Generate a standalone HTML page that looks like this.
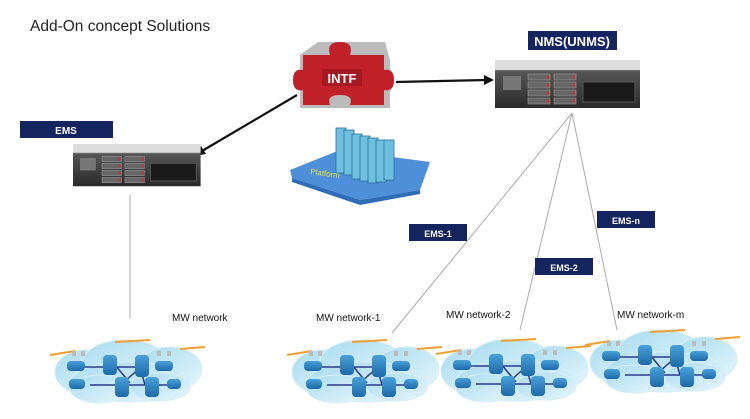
<!DOCTYPE html>
<html><head><meta charset="utf-8"><style>
body{margin:0;background:#fff}
svg{display:block}
text{font-family:"Liberation Sans",Arial,sans-serif}
</style></head><body>
<svg width="750" height="419" viewBox="0 0 750 419" xmlns="http://www.w3.org/2000/svg">
<defs>
<linearGradient id="cl" x1="0" y1="0" x2="1" y2="1"><stop offset="0" stop-color="#a9dcf0"/><stop offset="1" stop-color="#e6f6fc"/></linearGradient>
<linearGradient id="srv" x1="0" y1="0" x2="0" y2="1"><stop offset="0" stop-color="#e8e8e8"/><stop offset="0.25" stop-color="#555"/><stop offset="1" stop-color="#2a2a2a"/></linearGradient>
<linearGradient id="dev" x1="0" y1="0" x2="0" y2="1"><stop offset="0" stop-color="#4aa0d8"/><stop offset="1" stop-color="#1c6aa8"/></linearGradient>
<g id="cloud">
 <g fill="url(#cl)" stroke="#d8eef7" stroke-width="1">
  <ellipse cx="30" cy="35" rx="30" ry="22"/><ellipse cx="70" cy="25" rx="42" ry="22"/><ellipse cx="115" cy="32" rx="32" ry="22"/>
  <ellipse cx="75" cy="45" rx="60" ry="20"/><ellipse cx="45" cy="52" rx="30" ry="14"/><ellipse cx="105" cy="50" rx="30" ry="14"/>
 </g>
 <path d="M-5 18 L20 14 M60 5 L95 3 M125 12 L150 10" stroke="#f0a030" stroke-width="2"/>
 <g stroke="#2a3a8a" stroke-width="1.5" fill="none">
  <path d="M25 30 L90 30 M35 48 L120 48 M60 28 L75 46 M88 28 L68 46 M85 30 L90 48"/>
 </g>
 <g fill="url(#dev)">
  <rect x="12" y="24" width="18" height="10" rx="4"/><rect x="48" y="18" width="14" height="20" rx="4"/><rect x="80" y="18" width="14" height="22" rx="4"/><rect x="100" y="24" width="18" height="10" rx="4"/>
  <rect x="14" y="42" width="16" height="10" rx="4"/><rect x="60" y="40" width="14" height="20" rx="4"/><rect x="90" y="40" width="14" height="20" rx="4"/><rect x="112" y="42" width="14" height="10" rx="4"/>
 </g>
 <g fill="#bbb"><rect x="17" y="14" width="4" height="5"/><rect x="26" y="14" width="4" height="5"/><rect x="102" y="14" width="4" height="5"/><rect x="112" y="14" width="4" height="5"/></g>
</g>
<g id="server">
 <rect x="0" y="0" width="145" height="48" fill="url(#srv)"/>
 <rect x="0" y="0" width="145" height="10" fill="#ddd"/>
 <g fill="#666" stroke="#999" stroke-width="0.6">
  <rect x="33" y="14" width="22" height="6"/><rect x="33" y="22" width="22" height="6"/><rect x="33" y="30" width="22" height="6"/><rect x="33" y="38" width="22" height="6"/>
  <rect x="59" y="14" width="22" height="6"/><rect x="59" y="22" width="22" height="6"/><rect x="59" y="30" width="22" height="6"/><rect x="59" y="38" width="22" height="6"/>
 </g>
 <g fill="#c33"><rect x="52" y="15" width="2" height="4"/><rect x="52" y="23" width="2" height="4"/><rect x="52" y="31" width="2" height="4"/><rect x="52" y="39" width="2" height="4"/><rect x="78" y="15" width="2" height="4"/><rect x="78" y="23" width="2" height="4"/><rect x="78" y="31" width="2" height="4"/><rect x="78" y="39" width="2" height="4"/></g>
 <rect x="88" y="22" width="52" height="20" fill="#1a1a1a" stroke="#555"/>
 <rect x="8" y="16" width="18" height="14" fill="#777"/>
</g>
</defs>

<text x="30" y="31" font-size="15.5" fill="#222">Add-On concept Solutions</text>

<!-- lines -->
<g stroke="#aaa" stroke-width="1" fill="none">
 <line x1="130" y1="195" x2="130" y2="318"/>
 <line x1="572" y1="113" x2="392" y2="333"/>
 <line x1="572" y1="113" x2="520" y2="330"/>
 <line x1="572" y1="113" x2="617" y2="330"/>
</g>

<!-- puzzle -->
<g>
 <path d="M300 55 L318 42 L385 42 L390 60 L390 108 L300 108 Z" fill="#bbb"/>
 <path d="M303 55 L330 55 Q326 42 340 42 Q354 42 350 55 L384 55 L384 70 Q394 68 394 80 Q394 92 384 90 L384 105 L350 105 Q354 95 340 95 Q326 95 330 105 L303 105 L303 90 Q293 92 293 80 Q293 68 303 70 Z" fill="#c0202a"/>
 <rect x="322" y="69" width="40" height="17" fill="#a51a22"/>
 <text x="342" y="83" font-size="13" font-weight="bold" fill="#fff" text-anchor="middle">INTF</text>
</g>

<!-- arrows -->
<g stroke="#111" stroke-width="2.2" fill="#111">
 <line x1="396" y1="82" x2="486" y2="80"/>
 <line x1="297" y1="95" x2="202" y2="151"/>
</g>
<polygon points="494,80 484,75 484,85" fill="#111"/>
<polygon points="194,156 201,146 206,154" fill="#111"/>

<!-- platform -->
<polygon points="290,170 340,150 430,162 420,190 360,200 292,178" fill="#4d8fd8"/>
<polygon points="292,178 360,200 420,190 420,194 360,205 292,182" fill="#2f6db8"/>
<g fill="#6fc0e0" stroke="#2a6e98" stroke-width="0.8">
 <rect x="336" y="128" width="10" height="45"/><rect x="344" y="130" width="10" height="45"/><rect x="352" y="134" width="10" height="45"/><rect x="360" y="136" width="10" height="45"/><rect x="368" y="138" width="10" height="45"/><rect x="376" y="140" width="10" height="42"/><rect x="384" y="140" width="10" height="40"/>
</g>
<text x="310" y="174" font-size="8" fill="#e8e040" transform="rotate(8 310 174)">Platform</text>

<!-- servers -->
<use href="#server" x="495" y="60"/>
<use href="#server" x="73" y="144" transform="translate(73 144) scale(0.88) translate(-73 -144)"/>

<!-- labels -->
<g fill="#14245e">
 <rect x="528" y="31" width="89" height="19"/>
 <rect x="20" y="121" width="93" height="17"/>
 <rect x="409" y="224" width="58" height="17"/>
 <rect x="535" y="258" width="58" height="17"/>
 <rect x="597" y="211" width="58" height="17"/>
</g>
<g fill="#fff" font-weight="bold" text-anchor="middle">
 <text x="572" y="46" font-size="13">NMS(UNMS)</text>
 <text x="66" y="134" font-size="10">EMS</text>
 <text x="438" y="237" font-size="9">EMS-1</text>
 <text x="564" y="271" font-size="9">EMS-2</text>
 <text x="626" y="224" font-size="9">EMS-n</text>
</g>

<g font-size="10" fill="#111">
 <text x="172" y="321">MW network</text>
 <text x="316" y="321">MW network-1</text>
 <text x="446" y="318">MW network-2</text>
 <text x="617" y="318">MW network-m</text>
</g>

<use href="#cloud" x="55" y="337"/>
<use href="#cloud" x="292" y="337"/>
<use href="#cloud" x="441" y="336"/>
<use href="#cloud" x="590" y="327"/>
</svg>
</body></html>
